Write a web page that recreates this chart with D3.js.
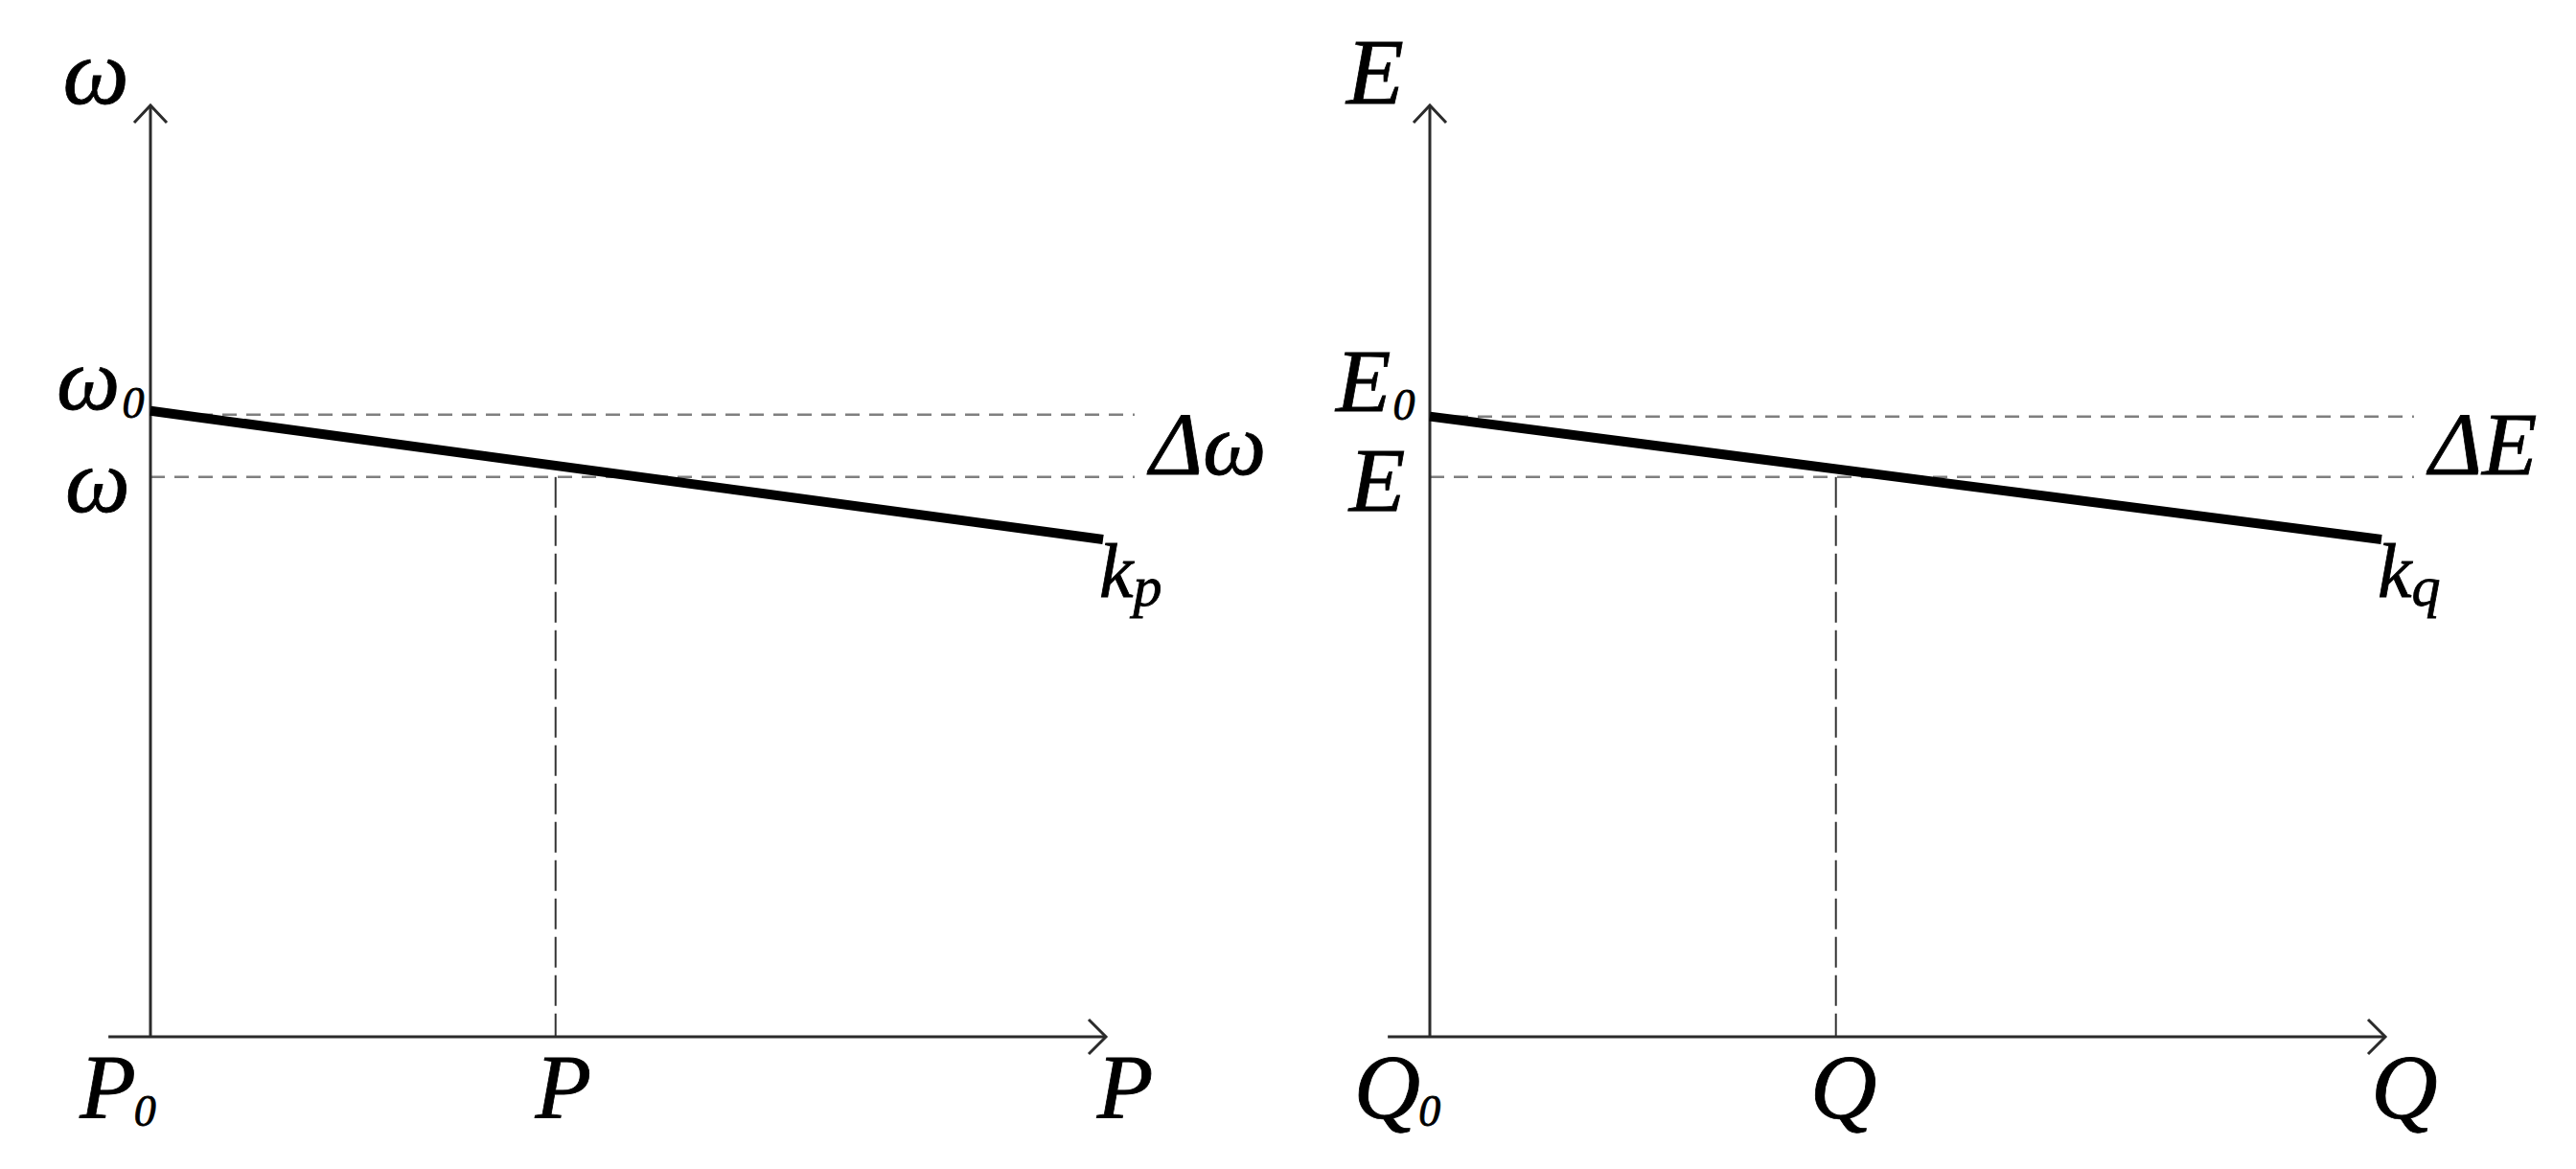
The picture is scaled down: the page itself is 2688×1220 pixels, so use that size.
<html>
<head>
<meta charset="utf-8">
<script src="https://d3js.org/d3.v7.min.js"></script>
<style>
body {margin: 0; background: white;}
text {font-family: "Liberation Serif", "Times New Roman", serif; font-style: italic; fill: black; stroke: black; stroke-width: 0.8;}
.axis {stroke: #2b2b2b; stroke-width: 3; fill: none;}
.droop {stroke: black; stroke-width: 10; fill: none;}
.hguide {stroke: #7f7f7f; stroke-width: 2.5; stroke-dasharray: 15 10; fill: none;}
.vguide {stroke: #333; stroke-width: 2; stroke-dasharray: 32 8; fill: none;}
</style>
</head>
<body>
<svg width="2688" height="1220"></svg>
<script>

// both panels are read in axis units 0..10 (y axis up to the arrow tip)
var yNames = ["ω", "E"];
var xNames = ["P", "Q"];
var deltaNames = ["Δω", "ΔE"];
var slopeSubs = ["p", "q"];
var noLoad = [6.72, 6.66];      // where the droop line meets the y axis
var fullLoadX = [9.97, 9.96];
var fullLoadY = [5.34, 5.34];
var refLevel = [6.68, 6.66];    // upper dashed guide (ω0 / E0)
var opX = [4.24, 4.25];         // operating point
var opY = [6.01, 6.01];
var guideEnd = [10.3, 10.3];

var svg = d3.select('svg');
var panelLeft = [157, 1492];

function drawPanel(i) {
  var x = d3.scaleLinear().domain([0, 10]).range([panelLeft[i], panelLeft[i] + 997]);
  var y = d3.scaleLinear().domain([0, 10]).range([1082, 110]);
  var g = svg.append('g');
  var line = d3.line().x(function(d) { return x(d[0]); }).y(function(d) { return y(d[1]); });

  // dashed guides
  g.append('path').attr('class', 'hguide')
    .attr('d', line([[0, refLevel[i]], [guideEnd[i], refLevel[i]]]));
  g.append('path').attr('class', 'hguide')
    .attr('d', line([[0, opY[i]], [guideEnd[i], opY[i]]]));
  g.append('path').attr('class', 'vguide')
    .attr('d', line([[opX[i], opY[i]], [opX[i], 0]]));

  // axes with open arrow heads
  g.append('path').attr('class', 'axis')
    .attr('d', line([[0, 0], [0, 10]]));
  g.append('path').attr('class', 'axis')
    .attr('d', 'M' + (x(0) - 17) + ',' + (y(10) + 18) + 'L' + x(0) + ',' + y(10) + 'L' + (x(0) + 17) + ',' + (y(10) + 18));
  g.append('path').attr('class', 'axis')
    .attr('d', line([[-0.44, 0], [10, 0]]));
  g.append('path').attr('class', 'axis')
    .attr('d', 'M' + (x(10) - 18) + ',' + (y(0) - 18) + 'L' + x(10) + ',' + y(0) + 'L' + (x(10) - 18) + ',' + (y(0) + 18));

  // droop characteristic
  g.append('path').attr('class', 'droop')
    .attr('d', line([[0, noLoad[i]], [fullLoadX[i], fullLoadY[i]]]));

  // labels
  g.append('text').attr('x', x(0) - 57).attr('y', 108)
    .attr('text-anchor', 'middle').style('font-size', '98px').text(yNames[i]);

  var t0 = g.append('text').attr('x', x(0) - 98).attr('y', y(refLevel[i]) - 6).style('font-size', '94px');
  t0.append('tspan').text(yNames[i]);
  t0.append('tspan').attr('dx', 2).attr('dy', 9).style('font-size', '46px').text('0');

  g.append('text').attr('x', x(0) - 55).attr('y', y(opY[i]) + 36)
    .attr('text-anchor', 'middle').style('font-size', '96px').text(yNames[i]);

  g.append('text').attr('x', x(guideEnd[i]) + 16).attr('y', y(opY[i]) - 3)
    .style('font-size', '94px').text(deltaNames[i]);

  var tk = g.append('text').attr('x', x(fullLoadX[i]) - 4).attr('y', y(fullLoadY[i]) + 60).style('font-size', '80px');
  tk.append('tspan').text('k');
  tk.append('tspan').attr('dx', 0).attr('dy', 9).style('font-size', '60px').text(slopeSubs[i]);

  var tp = g.append('text').attr('x', x(0) - 34).attr('y', 1167)
    .attr('text-anchor', 'middle').style('font-size', '96px');
  tp.append('tspan').text(xNames[i]);
  tp.append('tspan').attr('dx', -2).attr('dy', 8).style('font-size', '46px').text('0');

  g.append('text').attr('x', x(opX[i]) + 8).attr('y', 1167)
    .attr('text-anchor', 'middle').style('font-size', '96px').text(xNames[i]);

  g.append('text').attr('x', x(10) + 20).attr('y', 1167)
    .attr('text-anchor', 'middle').style('font-size', '96px').text(xNames[i]);
}

drawPanel(0);
drawPanel(1);

</script>
</body>
</html>
